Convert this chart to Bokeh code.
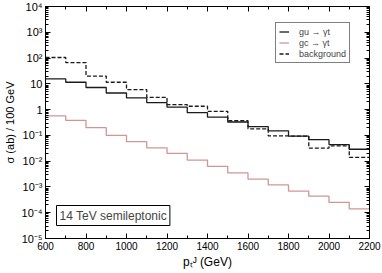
from bokeh.plotting import figure
from bokeh.models import (FixedTicker, LinearAxis, LogAxis, CustomJSTickFormatter,
                          Label, Legend, LegendItem, Range1d)
from bokeh.embed import file_html
from bokeh.resources import INLINE

# ---- data ----
bin_edges = [600, 700, 800, 900, 1000, 1100, 1200, 1300, 1400, 1500,
             1600, 1700, 1800, 1900, 2000, 2100, 2200]
gu_yt = [15.5, 11.5, 7.2, 4.4, 2.85, 1.85, 1.25, 0.76, 0.51, 0.33,
         0.22, 0.15, 0.093, 0.068, 0.044, 0.029]
gc_yt = [0.57, 0.38, 0.2, 0.1, 0.057, 0.033, 0.02, 0.011, 0.0063, 0.0035,
         0.002, 0.0012, 0.00069, 0.00044, 0.00025, 0.00014]
background = [105, 67, 20, 11.5, 6.0, 3.0, 1.57, 1.35, 0.86, 0.37,
              0.18, 0.095, 0.094, 0.032, 0.039, 0.014]
x_ticks = [600, 800, 1000, 1200, 1400, 1600, 1800, 2000, 2200]
x_minor = [700, 900, 1100, 1300, 1500, 1700, 1900, 2100]
y_exponents = [-5, -4, -3, -2, -1, 0, 1, 2, 3, 4]
series_labels = ["gu \u2192 \u03b3t", "gc \u2192 \u03b3t", "background"]
x_title = "p\u209c\u1d36 (GeV)"
y_title = "\u03c3 (ab) / 100 GeV"
note = "14 TeV semileptonic"

FONT = "Liberation Sans"

y_ticks = [10.0 ** e for e in y_exponents]
y_minor = [m * 10.0 ** e for e in y_exponents[:-1] for m in range(2, 10)]


def step_xy(edges, vals):
    xs, ys = [], []
    for i, v in enumerate(vals):
        xs += [edges[i], edges[i + 1]]
        ys += [v, v]
    return xs, ys


p = figure(width=382, height=273,
           x_range=Range1d(600, 2200), y_range=Range1d(1e-5, 1e4),
           y_axis_type="log", output_backend="svg", toolbar_location=None,
           min_border_left=39, min_border_right=13, min_border_top=6,
           min_border_bottom=35,
           styles={"position": "absolute", "left": "0px", "top": "0px"})
p.grid.visible = False
p.outline_line_color = "black"
p.outline_line_width = 1
p.background_fill_color = "white"
p.border_fill_color = "white"

blank = CustomJSTickFormatter(code="return '';")


def style_axis(ax, labels=True, size="10px"):
    ax.major_tick_in = 5
    ax.major_tick_out = 0
    ax.minor_tick_in = 3
    ax.minor_tick_out = 0
    ax.axis_line_color = "black"
    ax.major_tick_line_color = "black"
    ax.minor_tick_line_color = "black"
    ax.major_label_text_font = FONT
    ax.major_label_text_color = "black"
    ax.major_label_text_font_size = size
    ax.major_label_standoff = 3 if labels else 0
    if not labels:
        ax.formatter = blank


xt = FixedTicker(ticks=x_ticks, minor_ticks=x_minor)
yt = FixedTicker(ticks=y_ticks, minor_ticks=y_minor)

fmt = CustomJSTickFormatter(code="""
const e = Math.round(Math.log10(tick));
if (e === 0) return "1";
if (e === 1) return "10";
const sup = {"-": "\\u207b", "0": "\\u2070", "1": "\\u00b9", "2": "\\u00b2",
             "3": "\\u00b3", "4": "\\u2074", "5": "\\u2075", "6": "\\u2076",
             "7": "\\u2077", "8": "\\u2078", "9": "\\u2079"};
return "10" + String(e).split("").map(c => sup[c]).join("");
""")

xa = p.xaxis[0]
xa.ticker = xt
style_axis(xa, True, "10px")
xa.axis_label = x_title
xa.axis_label_text_font = FONT
xa.axis_label_text_font_size = "12px"
xa.axis_label_text_font_style = "normal"
xa.axis_label_text_color = "black"
xa.axis_label_standoff = 2

ya = p.yaxis[0]
ya.ticker = yt
ya.formatter = fmt
style_axis(ya, True, "11px")
ya.axis_label = y_title
ya.axis_label_text_font = FONT
ya.axis_label_text_font_size = "11px"
ya.axis_label_text_font_style = "normal"
ya.axis_label_text_color = "black"
ya.axis_label_standoff = 3

top = LinearAxis(ticker=xt)
style_axis(top, False)
p.add_layout(top, "above")
right = LogAxis(ticker=yt)
style_axis(right, False)
p.add_layout(right, "right")

gx, gy = step_xy(bin_edges, gu_yt)
r_gu = p.line(gx, gy, line_color="#1a1a1a", line_width=1.3)
cx, cy = step_xy(bin_edges, gc_yt)
r_gc = p.line(cx, cy, line_color="#cf9696", line_width=1.3)
bx, by = step_xy(bin_edges, background)
r_bg = p.line(bx, by, line_color="#1a1a1a", line_width=1.3, line_dash="4 2")

legend = Legend(items=[LegendItem(label=series_labels[0], renderers=[r_gu]),
                       LegendItem(label=series_labels[1], renderers=[r_gc]),
                       LegendItem(label=series_labels[2], renderers=[r_bg])],
                location=(230, 175))
legend.border_line_color = "black"
legend.border_line_width = 1
legend.background_fill_color = "white"
legend.background_fill_alpha = 1
legend.padding = 3
legend.spacing = 0
legend.margin = 0
legend.label_text_font = FONT
legend.label_text_font_size = "9px"
legend.label_height = 11
legend.glyph_height = 11
legend.glyph_width = 10
legend.label_standoff = 10
p.add_layout(legend)

box = Label(x=11, y=13, x_units="screen", y_units="screen",
            text=note, text_font=FONT, text_font_size="12px",
            border_line_color="black", border_line_width=1,
            background_fill_color="white", padding=3)
p.add_layout(box)

open("out.html", "w").write(file_html(p, INLINE))
